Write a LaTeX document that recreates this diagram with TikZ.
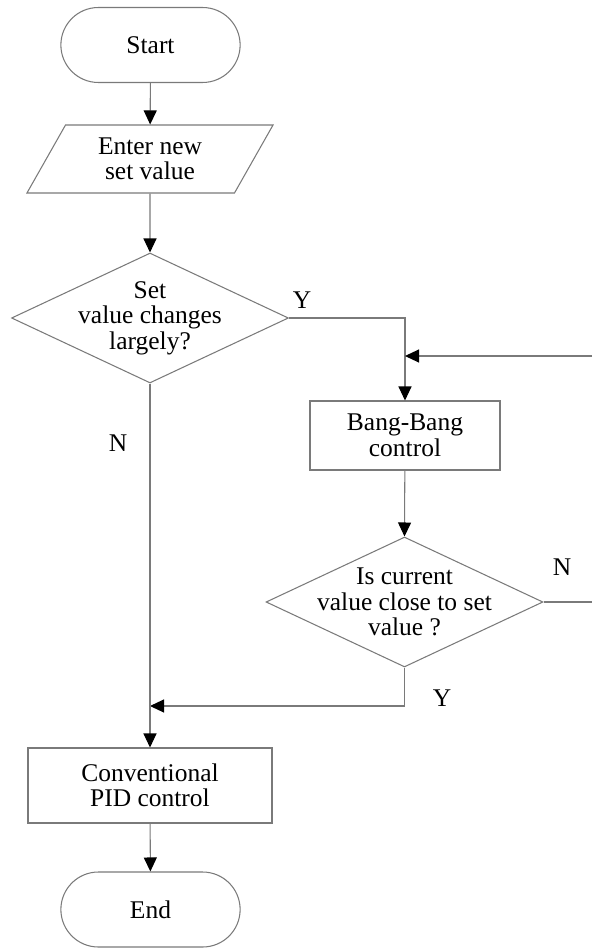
\documentclass[tikz,border=0pt]{standalone}
\usepackage{fontspec}
\setmainfont{Liberation Serif}
\usetikzlibrary{arrows.meta,shapes.geometric,shapes.misc}
\definecolor{Wire}{HTML}{7A7A7A}

\begin{document}
\begin{tikzpicture}[x=.02cm,y=-.02cm,font=\fontsize{14.5}{14.5}\selectfont,
term/.style={draw=Wire,line width=.6pt,rounded rectangle,minimum width=3.82cm,minimum height=1.5cm},
box/.style={draw=Wire,line width=.6pt,rectangle,align=center},
io/.style={draw=Wire,line width=.6pt,trapezium,trapezium left angle=64,trapezium right angle=116,trapezium stretches=true,align=center,minimum width=4.94cm,minimum height=1.36cm},
decide/.style={draw=Wire,line width=.6pt,diamond,minimum width=5.54cm,minimum height=2.6cm,inner sep=0pt},
txt/.style={align=center,inner sep=0pt},
arrow/.style={-{Triangle[length=2.8mm,width=2.6mm,color=black]},draw=Wire,line width=.6pt}]
\useasboundingbox (0,0) rectangle (592,949);
\node[term](start) at (150.5,45){Start};
\node[io](enter) at (150,159){Enter new\\set value};
\node[decide](change) at (150,318){};
\node[txt](changetxt) at (change){Set\\value changes\\largely?};
\node[box,minimum width=3.8cm,minimum height=1.38cm](bang) at (405,435.5){Bang-Bang\\control};
\node[decide](close) at (404.5,602){};
\node[txt](closetxt) at (close){Is current\\value close to set\\value ?};
\node[box,minimum width=4.88cm,minimum height=1.5cm](pid) at (150,785.5){Conventional\\PID control};
\node[term](stop) at (150.5,909.5){End};
% branch labels
\node(ylarge) at (302,300){Y};
\node(nlarge) at (118,443){N};
\node(nclose) at (562,567){N};
\node(yclose) at (442,698){Y};
% loop ends leave the picture on the right
\coordinate(loopout) at (592,602);
\coordinate(loopin) at (592,356);
\coordinate(merge) at (150,706);
\draw[arrow](start)--(enter);\draw[arrow](enter)--(change.north);
\draw[arrow](change.east)-|(bang.north);
\draw[arrow](loopin)--(loopin-|bang.north);
\draw[arrow](bang)--(close.north);
\draw[draw=Wire,line width=.6pt](close.east)--(loopout);
\draw[arrow](close.south)|-(merge);
\draw[arrow](change.south)--(pid.north);\draw[arrow](pid)--(stop);
\end{tikzpicture}
\end{document}
